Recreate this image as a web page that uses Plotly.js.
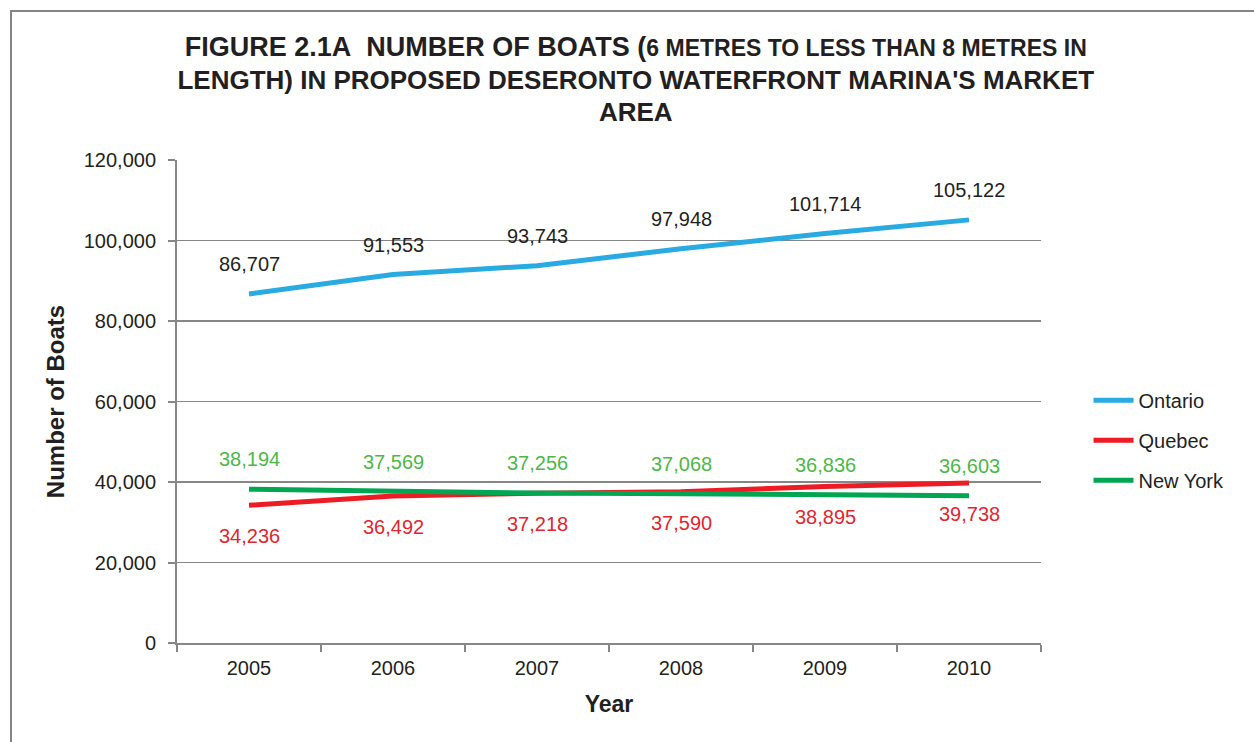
<!DOCTYPE html>
<html>
<head>
<meta charset="utf-8">
<script src="https://cdn.plot.ly/plotly-3.0.1.min.js"></script>
<style>
  html, body { margin: 0; padding: 0; background: #fff; overflow: hidden; }
  #wrap { position: relative; width: 1254px; height: 742px; }
  #frame { position: absolute; left: 10px; top: 10px; width: 1300px; height: 800px;
           border: 2px solid #858585; box-sizing: border-box; pointer-events: none; }
  #chart { position: absolute; left: 0; top: 0; width: 1254px; height: 742px; }
</style>
</head>
<body>
<div id="wrap">
  <div id="frame"></div>
  <div id="chart"></div>
</div>
<script>
const years = ['2005', '2006', '2007', '2008', '2009', '2010'];
const ontario = [86707, 91553, 93743, 97948, 101714, 105122];
const quebec = [34236, 36492, 37218, 37590, 38895, 39738];
const newYork = [38194, 37569, 37256, 37068, 36836, 36603];
const seriesNames = ['Ontario', 'Quebec', 'New York'];
const lineColors = ['#29ABE2', '#ED1C24', '#00A651'];
const labelColors = ['#231F20', '#E0262E', '#4CB848'];
const labelShift = [30, -31, 30];
const yTicks = [0, 20000, 40000, 60000, 80000, 100000, 120000];

const seriesValues = [ontario, quebec, newYork];
const font = 'Liberation Sans, Arial, Helvetica, sans-serif';

const traces = seriesValues.map((vals, i) => ({
  type: 'scatter',
  mode: 'lines',
  name: seriesNames[i],
  legendgroup: 'g' + i,
  x: years,
  y: vals,
  line: { color: lineColors[i], width: 5 },
  hoverinfo: 'skip'
}));

const annotations = [];
seriesValues.forEach((vals, i) => {
  vals.forEach((v, j) => {
    annotations.push({
      x: j, y: v, xref: 'x', yref: 'y',
      text: v.toLocaleString('en-US'),
      showarrow: false,
      yshift: labelShift[i],
      font: { family: font, size: 20, color: labelColors[i] }
    });
  });
});

const big1 = 'font-size:27px';
const big = 'font-size:26px';
const small = 'font-size:23px';
const titleText =
  '<span style="' + big1 + '">FIGURE 2.1A&nbsp; NUMBER OF BOATS (</span><span style="' + small + '">6 METRES TO LESS THAN 8 METRES IN</span><br>' +
  '<span style="' + big + '">LENGTH) IN PROPOSED DESERONTO WATERFRONT MARINA\'S MARKET</span><br>' +
  '<span style="' + big + '">AREA</span>';

const layout = {
  width: 1254,
  height: 742,
  paper_bgcolor: 'rgba(0,0,0,0)',
  plot_bgcolor: 'rgba(0,0,0,0)',
  margin: { l: 177, r: 213, t: 160, b: 99 },
  font: { family: font, size: 20, color: '#231F20' },
  title: {
    text: titleText,
    font: { family: font, size: 25, color: '#231F20', weight: 'bold' },
    x: 0.507, xref: 'container', xanchor: 'center',
    y: 0.924, yref: 'container', yanchor: 'top'
  },
  xaxis: {
    type: 'category',
    categoryorder: 'array',
    categoryarray: years,
    range: [-0.5, 5.5],
    tickson: 'boundaries',
    ticks: 'outside',
    ticklen: 7,
    tickwidth: 2,
    tickcolor: '#868686',
    showline: true,
    linecolor: '#868686',
    linewidth: 2,
    showgrid: false,
    zeroline: false,
    tickfont: { family: font, size: 20, color: '#231F20' },
    ticklabelstandoff: 6,
    title: { text: 'Year', font: { family: font, size: 23, color: '#231F20', weight: 'bold' }, standoff: 18 },
    fixedrange: true
  },
  yaxis: {
    range: [0, 120000],
    tickvals: yTicks,
    tickformat: ',d',
    ticks: 'outside',
    ticklen: 7,
    tickwidth: 2,
    tickcolor: '#868686',
    showline: true,
    linecolor: '#868686',
    linewidth: 2,
    showgrid: true,
    gridcolor: '#868686',
    gridwidth: 1.5,
    zeroline: false,
    tickfont: { family: font, size: 20, color: '#231F20' },
    ticklabelstandoff: 8,
    title: { text: 'Number of Boats', font: { family: font, size: 24, color: '#231F20', weight: 'bold' }, standoff: 12 },
    fixedrange: true
  },
  legend: {
    x: 1.055, xanchor: 'left',
    y: 0.42, yanchor: 'middle',
    font: { family: font, size: 20, color: '#231F20' },
    tracegroupgap: 11,
    itemwidth: 40,
    bgcolor: 'rgba(0,0,0,0)'
  },
  showlegend: true,
  annotations: annotations
};

Plotly.newPlot('chart', traces, layout, { displayModeBar: false, staticPlot: true });
</script>
</body>
</html>
